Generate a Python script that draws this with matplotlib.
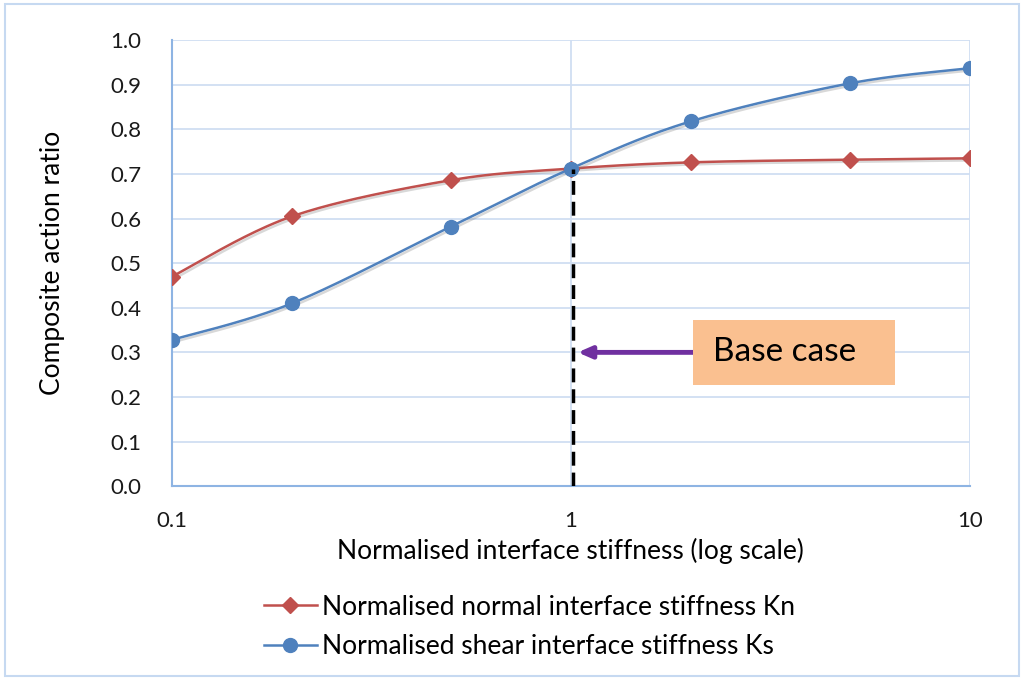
import numpy as np
import matplotlib
matplotlib.use('Agg')
import matplotlib.pyplot as plt
import matplotlib.patheffects as pe

plt.rcParams['font.family'] = ['Lato', 'DejaVu Sans']

# data
stiffness = [0.1, 0.2, 0.5, 1, 2, 5, 10]
ratio_kn = [0.470, 0.605, 0.686, 0.712, 0.726, 0.732, 0.735]
ratio_ks = [0.328, 0.410, 0.582, 0.712, 0.818, 0.903, 0.937]
yticks = [0.0, 0.1, 0.2, 0.3, 0.4, 0.5, 0.6, 0.7, 0.8, 0.9, 1.0]
base_x = 1
arrow_y = 0.30

red = '#C0504D'
blue = '#4F81BD'
grid_c = '#D0DEF2'
spine_c = '#8EB4E3'


def smooth(xs, ys, n=40):
    # Excel-like smoothed line: Catmull-Rom through points in log-x space
    lx = np.log10(xs)
    ys = np.asarray(ys, float)
    px = np.concatenate([[lx[0]], lx, [lx[-1]]])
    py = np.concatenate([[ys[0]], ys, [ys[-1]]])
    outx, outy = [], []
    for i in range(1, len(px) - 2):
        t = np.linspace(0, 1, n)
        p0x, p1x, p2x, p3x = px[i - 1], px[i], px[i + 1], px[i + 2]
        p0y, p1y, p2y, p3y = py[i - 1], py[i], py[i + 1], py[i + 2]
        k = 1 / 6
        c1x, c1y = p1x + (p2x - p0x) * k, p1y + (p2y - p0y) * k
        c2x, c2y = p2x - (p3x - p1x) * k, p2y - (p3y - p1y) * k
        bx = (1 - t) ** 3 * p1x + 3 * (1 - t) ** 2 * t * c1x + 3 * (1 - t) * t ** 2 * c2x + t ** 3 * p2x
        by = (1 - t) ** 3 * p1y + 3 * (1 - t) ** 2 * t * c1y + 3 * (1 - t) * t ** 2 * c2y + t ** 3 * p2y
        outx.extend(bx)
        outy.extend(by)
    return 10 ** np.array(outx), np.array(outy)


fig = plt.figure(figsize=(10.24, 6.8), dpi=100)
fig.patches.append(plt.Rectangle((0.005, 0.006), 0.99, 0.988, transform=fig.transFigure,
                                 fill=False, edgecolor='#C6D9F1', linewidth=1.5))
ax = fig.add_axes([0.168, 0.285, 0.779, 0.656])

shadow = [pe.SimpleLineShadow(offset=(1.5, -1.5), shadow_color='gray', alpha=0.3), pe.Normal()]

sx, sy = smooth(stiffness, ratio_kn)
ax.plot(sx, sy, color=red, lw=1.8, path_effects=shadow, zorder=3)
ax.plot(stiffness, ratio_kn, ls='none', marker='D', ms=8, color=red, zorder=4)
sx, sy = smooth(stiffness, ratio_ks)
ax.plot(sx, sy, color=blue, lw=1.8, path_effects=shadow, zorder=3)
ax.plot(stiffness, ratio_ks, ls='none', marker='o', ms=10, color=blue, zorder=4)

# legend proxies
ax.plot([], [], color=red, lw=1.8, marker='D', ms=8, label='Normalised normal interface stiffness Kn')
ax.plot([], [], color=blue, lw=1.8, marker='o', ms=10, label='Normalised shear interface stiffness Ks')

# base case marker
ax.plot([base_x * 1.01, base_x * 1.01], [0, ratio_kn[3]], color='black', lw=2.5,
        ls=(0, (4, 2)), zorder=5)
ax.annotate('', xy=(base_x * 1.04, arrow_y), xytext=(0.653, arrow_y),
            textcoords=ax.get_yaxis_transform(),
            arrowprops=dict(arrowstyle='-|>,head_length=0.8,head_width=0.35', color='#7030A0',
                            lw=3.5, shrinkA=0, shrinkB=0),
            zorder=6)
ax.add_patch(plt.Rectangle((0.653, 0.2265), 0.253, 0.1455, transform=ax.transAxes,
                           facecolor='#FAC090', edgecolor='none', zorder=7))
ax.text(0.678, arrow_y, 'Base case', fontsize=24, va='center', ha='left',
        transform=ax.get_yaxis_transform(), zorder=8)

ax.set_xscale('log')
ax.set_xlim(0.1, 10)
ax.set_ylim(0, 1.0)
ax.set_yticks(yticks)
ax.set_yticklabels([f'{v:.1f}' for v in yticks])
ax.set_xticks([0.1, 1, 10])
ax.set_xticklabels(['0.1', '1', '10'])
ax.minorticks_off()
ax.tick_params(axis='both', length=0, labelsize=16, colors='#1a1a1a')
ax.tick_params(axis='y', pad=22)
ax.tick_params(axis='x', pad=18)
ax.grid(True, color=grid_c, lw=1.3)
ax.set_axisbelow(True)
for s in ['top', 'right']:
    ax.spines[s].set_visible(False)
for s in ['left', 'bottom']:
    ax.spines[s].set_color(spine_c)
    ax.spines[s].set_linewidth(1.5)

ax.set_xlabel('Normalised interface stiffness (log scale)', fontsize=19, labelpad=5)
ax.set_ylabel('Composite action ratio', fontsize=19, labelpad=33)

fig.legend(loc='upper left', bbox_to_anchor=(0.245, 0.145), frameon=False, fontsize=19,
           handlelength=2.0, handletextpad=0.2, labelspacing=0.55, borderpad=0)

fig.savefig('out.png', dpi=100)
